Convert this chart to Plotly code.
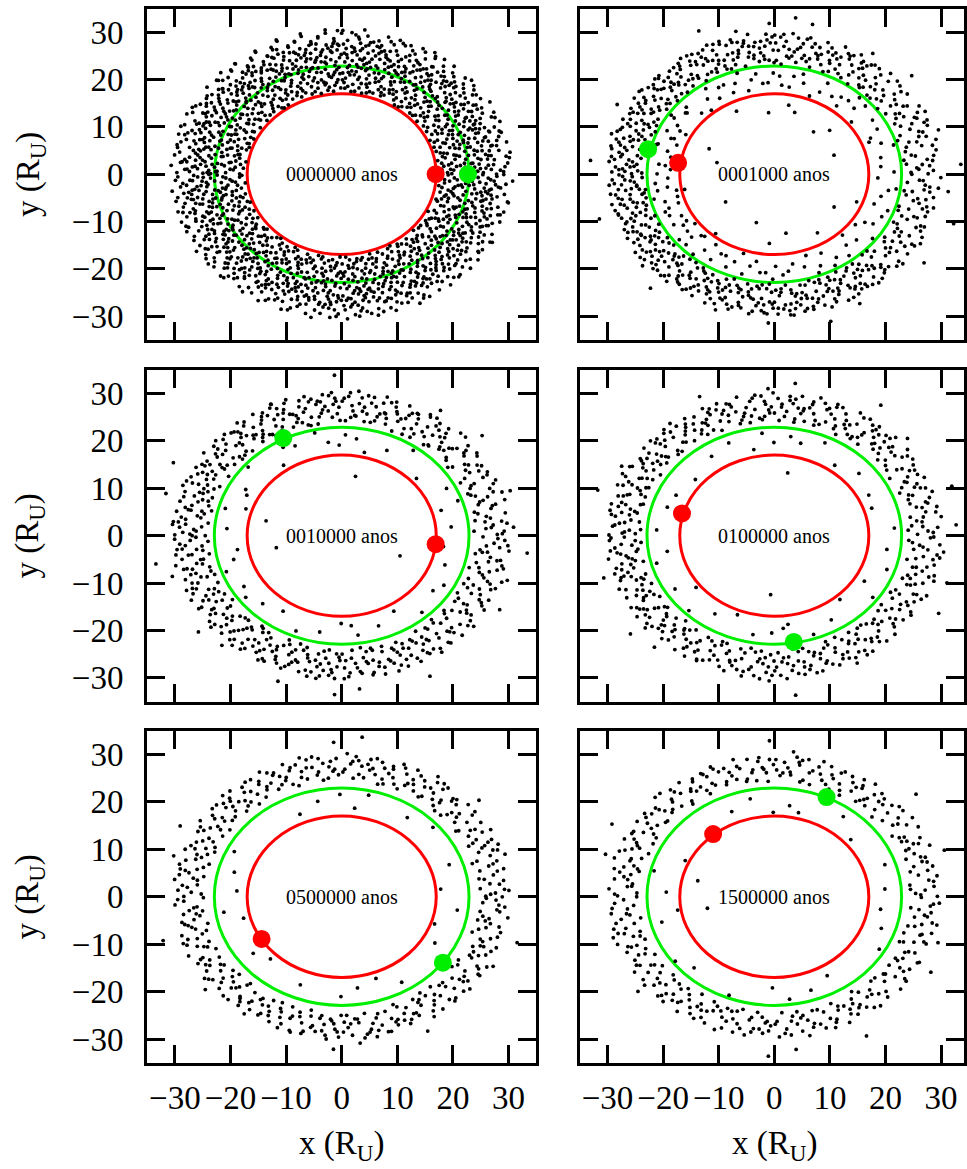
import plotly.graph_objects as go
import numpy as np

# ---------------- data ----------------
PANEL_LABELS = ["0000000 anos", "0001000 anos", "0010000 anos",
                "0100000 anos", "0500000 anos", "1500000 anos"]
TICKS = [-30, -20, -10, 0, 10, 20, 30]

RED_ORBIT_R = 17.0     # inner moon orbit (R_U)
GREEN_ORBIT_R = 22.9   # outer moon orbit (R_U)

RED_X = [16.9, -17.3, 16.9, -16.6, -14.4, -11.0]
RED_Y = [0.0, 2.4, -1.8, 4.7, -8.9, 13.2]
GREEN_X = [22.7, -22.7, -10.5, 3.5, 18.2, 9.4]
GREEN_Y = [0.0, 5.3, 20.6, -22.4, -13.9, 21.0]

# particle clouds: counts of dots read per radial band (R_U) and per 45-degree sector
# (sector 0 = 0-45 deg, counter-clockwise)
P1_BANDS = [(17.4, 23.0), (23.0, 28.0), (28.0, 30.8)]
P1_COUNTS = [[85, 85, 85, 85, 85, 85, 85, 85],
             [100, 100, 100, 100, 100, 100, 100, 100],
             [34, 34, 34, 38, 38, 34, 34, 34]]

P2_BANDS = [(10.5, 16.5), (17.6, 22.4), (23.2, 30.0), (30.0, 34.0)]
P2_COUNTS = [[2, 3, 2, 2, 2, 3, 2, 2],
             [12, 14, 15, 22, 22, 16, 14, 12],
             [62, 80, 90, 100, 100, 92, 90, 62],
             [4, 3, 3, 3, 2, 3, 3, 4]]

P3_BANDS = [(10.5, 16.5), (17.6, 22.4), (23.8, 30.5), (30.5, 34.0)]
P3_COUNTS = [[0, 1, 0, 1, 1, 0, 0, 1],
             [5, 5, 6, 6, 5, 5, 5, 4],
             [62, 72, 80, 78, 72, 78, 72, 62],
             [3, 2, 2, 3, 3, 3, 2, 3]]

P4_BANDS = [(10.5, 16.5), (17.6, 22.4), (24.0, 30.3), (30.3, 34.0)]
P4_COUNTS = [[0, 1, 0, 0, 0, 1, 0, 0],
             [4, 4, 5, 5, 4, 5, 5, 4],
             [58, 66, 66, 72, 70, 66, 66, 58],
             [3, 2, 2, 2, 2, 2, 2, 3]]

P5_BANDS = [(10.5, 16.5), (17.6, 22.4), (24.5, 30.3), (30.3, 34.0)]
P5_COUNTS = [[0, 0, 0, 0, 0, 0, 0, 0],
             [3, 3, 3, 3, 3, 3, 3, 3],
             [52, 55, 56, 56, 54, 58, 56, 52],
             [2, 2, 1, 2, 2, 1, 2, 2]]

P6_BANDS = [(10.5, 16.5), (17.6, 22.4), (24.3, 30.0), (30.0, 34.0)]
P6_COUNTS = [[0, 0, 0, 1, 1, 0, 0, 0],
             [3, 3, 3, 3, 3, 3, 3, 3],
             [45, 50, 50, 50, 48, 52, 50, 45],
             [2, 1, 1, 2, 2, 1, 2, 2]]

PANEL_BANDS = [P1_BANDS, P2_BANDS, P3_BANDS, P4_BANDS, P5_BANDS, P6_BANDS]
PANEL_COUNTS = [P1_COUNTS, P2_COUNTS, P3_COUNTS, P4_COUNTS, P5_COUNTS, P6_COUNTS]


def halton(i, b):
    f, r = 1.0, 0.0
    while i > 0:
        f /= b
        r += f * (i % b)
        i //= b
    return r


def cloud(bands, counts, cell_offset):
    """Spread each cell's dot count evenly (Halton placement) over its band/sector."""
    xs, ys = [], []
    c = cell_offset
    for (r0, r1), row in zip(bands, counts):
        for s, n in enumerate(row):
            c += 1
            start = 1 + c * 53
            for k in range(n):
                u = halton(start + k, 2)
                v = halton(start + k, 3)
                th = np.deg2rad((s + u) * 45.0)
                r = np.sqrt(r0 ** 2 + v * (r1 ** 2 - r0 ** 2))
                xs.append(r * np.cos(th))
                ys.append(r * np.sin(th))
    return xs, ys, c


# ---------------- layout geometry ----------------
W, H = 967, 1169
COL_DOM = [[147.5 / W, 538.0 / W], [581.5 / W, 1.0]]
X_RANGES = [[-35, 35], [-35, 34.12]]
ROW_DOM = [[1 - 339.7 / H, 1 - 8.7 / H],
           [1 - 701.6 / H, 1 - 369.8 / H],
           [1 - 1062.8 / H, 1 - 730.6 / H]]
FONT = "Liberation Serif"

fig = go.Figure()
layout = {}
shapes = []
annotations = []

axis_common = dict(showline=True, linewidth=3, linecolor="black", mirror="ticks",
                   ticks="inside", ticklen=18, tickwidth=2.5, tickcolor="black",
                   tickmode="array", tickvals=TICKS, showgrid=False, zeroline=False,
                   tickfont=dict(family=FONT, size=33, color="black"))

cell = 0
for i in range(6):
    row, col = divmod(i, 2)
    n = i + 1
    xname = "x" if n == 1 else f"x{n}"
    yname = "y" if n == 1 else f"y{n}"
    xkey = "xaxis" if n == 1 else f"xaxis{n}"
    ykey = "yaxis" if n == 1 else f"yaxis{n}"

    layout[xkey] = dict(axis_common, domain=COL_DOM[col], range=X_RANGES[col],
                        anchor=yname, showticklabels=(row == 2), ticklabelstandoff=4)
    layout[ykey] = dict(axis_common, domain=ROW_DOM[row], range=[-35, 35],
                        anchor=xname, showticklabels=(col == 0), ticklabelstandoff=14)

    xs, ys, cell = cloud(PANEL_BANDS[i], PANEL_COUNTS[i], cell)
    fig.add_trace(go.Scatter(x=xs, y=ys, mode="markers", xaxis=xname, yaxis=yname,
                             marker=dict(size=3.8, color="black"), showlegend=False,
                             hoverinfo="skip"))

    for rad, colr in ((RED_ORBIT_R, "#ff0000"), (GREEN_ORBIT_R, "#00ee00")):
        shapes.append(dict(type="circle", xref=xname, yref=yname, x0=-rad, x1=rad,
                           y0=-rad, y1=rad, line=dict(color=colr, width=3), layer="below"))

    fig.add_trace(go.Scatter(x=[RED_X[i]], y=[RED_Y[i]], mode="markers", xaxis=xname, yaxis=yname,
                             marker=dict(size=18, color="#ff0000"), showlegend=False))
    fig.add_trace(go.Scatter(x=[GREEN_X[i]], y=[GREEN_Y[i]], mode="markers", xaxis=xname, yaxis=yname,
                             marker=dict(size=18, color="#00ee00"), showlegend=False))

    annotations.append(dict(x=0, y=0, xref=xname, yref=yname, text=PANEL_LABELS[i],
                            showarrow=False, font=dict(family=FONT, size=20, color="black"),
                            xanchor="center", yanchor="middle"))

# axis titles
for row in range(3):
    yc = (ROW_DOM[row][0] + ROW_DOM[row][1]) / 2
    annotations.append(dict(x=30 / W, y=yc, xref="paper", yref="paper",
                            text="y (R<sub>U</sub>)", textangle=-90, showarrow=False,
                            font=dict(family=FONT, size=33, color="black"),
                            xanchor="center", yanchor="middle"))
for col, xc in enumerate([342.7 / W, 776.7 / W]):
    annotations.append(dict(x=xc, y=1 - 1145 / H, xref="paper", yref="paper",
                            text="x (R<sub>U</sub>)", showarrow=False,
                            font=dict(family=FONT, size=33, color="black"),
                            xanchor="center", yanchor="middle"))

fig.update_layout(width=W, height=H, margin=dict(l=0, r=0, t=0, b=0),
                  paper_bgcolor="white", plot_bgcolor="white",
                  shapes=shapes, annotations=annotations, **layout)

fig.write_html("out.html", config={"displayModeBar": False},
               post_script="document.body.style.margin='0px';")
